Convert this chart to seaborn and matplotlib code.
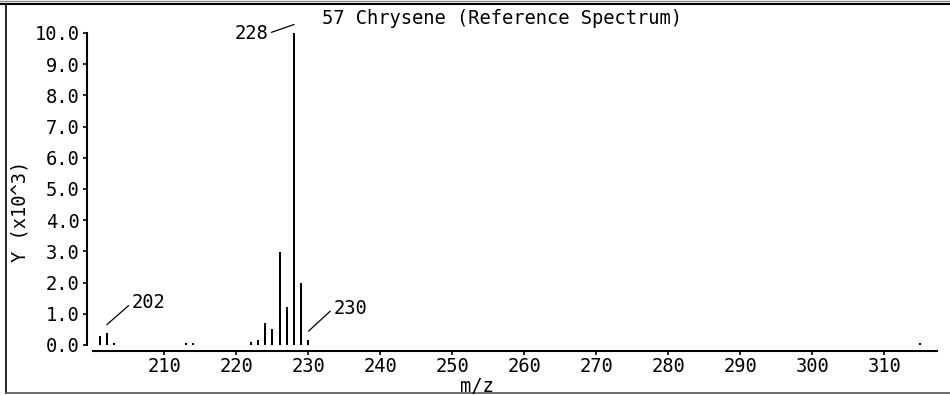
import numpy as np
import pandas as pd
import seaborn as sns
import matplotlib.pyplot as plt
from matplotlib import transforms as mtransforms
from matplotlib.lines import Line2D
from matplotlib.ticker import FormatStrFormatter

# mass spectrum of chrysene (intensity in units of 10^3)
mz = [201, 202, 203, 213, 214, 222, 223, 224, 225, 226, 227, 228, 229, 230, 315]
intensity = [0.28, 0.38, 0.08, 0.05, 0.05, 0.09, 0.15, 0.71, 0.51, 2.98, 1.21, 10.0, 1.99, 0.17, 0.05]
labeled_peaks = [202, 228, 230]
x_ticks = list(range(210, 311, 10))
y_ticks = list(range(0, 11))
title = "57 Chrysene (Reference Spectrum)"

sns.set_style("ticks")
plt.rcParams['font.family'] = ['DejaVu Sans Mono', 'DejaVu Sans']
plt.rcParams['font.size'] = 13.5
plt.rcParams['text.color'] = 'black'

df = pd.DataFrame({'mz': mz, 'intensity': intensity})

fig = plt.figure(figsize=(9.5, 3.95), dpi=100)
ax = fig.add_axes([92.5 / 950, 50 / 395, 844.5 / 950, 312 / 395])

sns.barplot(data=df, x='mz', y='intensity', native_scale=True, width=0.28,
            color='black', saturation=1, errorbar=None, linewidth=0, ax=ax)

ax.set_xlim(200, 317.3)
ax.set_ylim(0, 10)
ax.set_xticks(x_ticks)
ax.set_yticks(y_ticks)
ax.yaxis.set_major_formatter(FormatStrFormatter('%.1f'))
ax.set_xlabel('')
ax.set_ylabel('')
for p in ax.patches:
    p.set_clip_on(False)

sns.despine(ax=ax)
ax.spines['left'].set_position(('outward', 4.3))
ax.spines['bottom'].set_position(('outward', 4.3))
ax.spines['left'].set_bounds(0, 10)
ax.spines['bottom'].set_bounds(200, 317.3)
for s in ('left', 'bottom'):
    ax.spines[s].set_linewidth(1.5)
    ax.spines[s].set_color('black')
ax.tick_params(axis='both', colors='black', width=1.2, length=3, labelsize=13.5)
ax.tick_params(axis='x', pad=1)
ax.tick_params(axis='y', pad=2)

# peak labels with leader lines
offsets = {202: (25, 22, 'left'), 228: (-26, -9, 'right'), 230: (25, 23, 'left')}
for m in labeled_peaks:
    val = intensity[mz.index(m)]
    dx, dy, ha = offsets[m]
    tr = mtransforms.offset_copy(ax.transData, fig=fig, x=0, y=8.5, units='dots')
    ax.annotate(str(m), xy=(m, val), xycoords=tr, xytext=(dx, dy),
                textcoords='offset pixels', ha=ha, va='center', fontsize=13.5,
                color='black', annotation_clip=False,
                arrowprops=dict(arrowstyle='-', color='black', lw=0.9,
                                shrinkA=0, shrinkB=0,
                                relpos=(0 if ha == 'left' else 1, 0.5)))

fig.text(502 / 950, 1 - 18 / 395, title, ha='center', va='center', fontsize=13.5)
fig.text(477 / 950, 1 - 386 / 395, 'm/z', ha='center', va='center', fontsize=13.5)
fig.text(20 / 950, 1 - 211 / 395, 'Y (x10^3)', ha='center', va='center',
         rotation=90, fontsize=13.5)

# outer frame
fig.add_artist(Line2D([0, 1], [1 - 0.8 / 395] * 2, transform=fig.transFigure, color='#888888', lw=1))
fig.add_artist(Line2D([0, 1], [1 - 3.5 / 395] * 2, transform=fig.transFigure, color='black', lw=1.5))
fig.add_artist(Line2D([5.5 / 950] * 2, [2 / 395, 1 - 3.5 / 395], transform=fig.transFigure, color='black', lw=1.2))
fig.add_artist(Line2D([5.5 / 950, 1], [2.5 / 395] * 2, transform=fig.transFigure, color='#555555', lw=1.2))

fig.savefig('out.png', dpi=100)
